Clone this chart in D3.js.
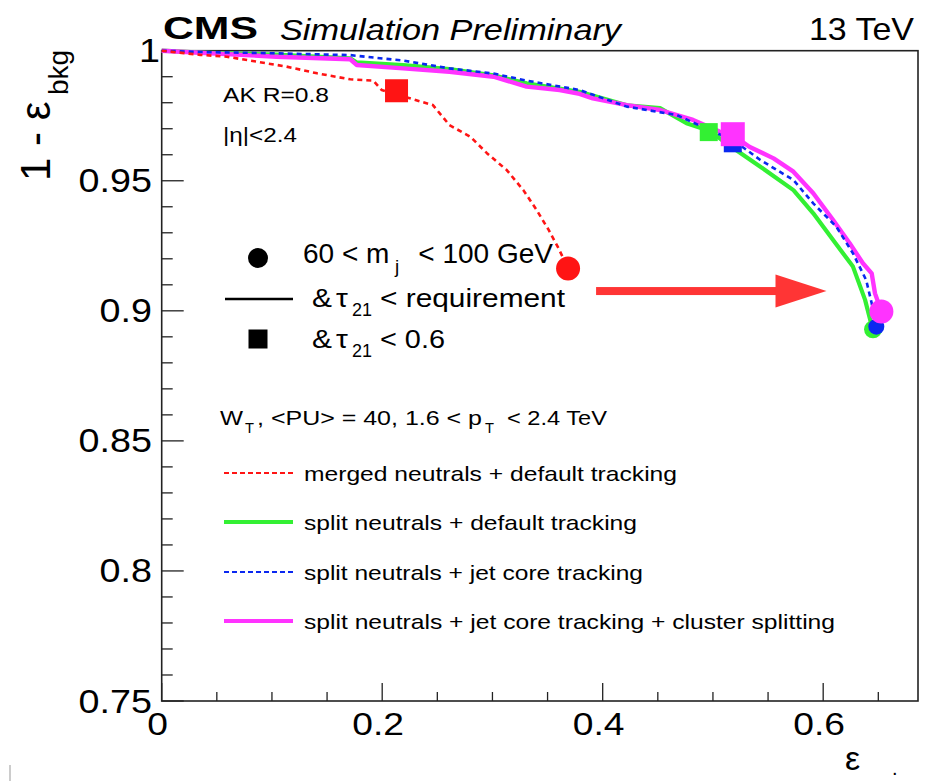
<!DOCTYPE html>
<html><head><meta charset="utf-8">
<script src="https://cdn.jsdelivr.net/npm/d3@7"></script>
<style>
body{margin:0;background:#fff;}
svg{display:block;}
text{font-family:"Liberation Sans",Arial,Helvetica,sans-serif;fill:#000;}
</style>
</head><body>
<svg id="chart" width="933" height="781"></svg>
<script>
// ---------- data ----------
const xTicks = [0, 0.2, 0.4, 0.6];
const xTickLabels = ["0", "0.2", "0.4", "0.6"];
const yTicks = [0.75, 0.8, 0.85, 0.9, 0.95, 1];
const yTickLabels = ["0.75", "0.8", "0.85", "0.9", "0.95", "1"];

const seriesNames = [
  "merged neutrals + default tracking",
  "split neutrals + default tracking",
  "split neutrals + jet core tracking",
  "split neutrals + jet core tracking + cluster splitting"
];
const seriesColors = ["#ff1414", "#33f033", "#0a28f0", "#ff33ff"];

const mergedDefault = [
  [0,1],[0.035,0.9984],[0.059,0.9977],[0.086,0.9958],[0.113,0.9939],[0.141,0.9913],
  [0.171,0.9890],[0.192,0.9885],[0.1995,0.9849],[0.225,0.9817],[0.246,0.9791],
  [0.261,0.9714],[0.280,0.9669],[0.295,0.9606],[0.313,0.9541],[0.328,0.9464],
  [0.340,0.9388],[0.351,0.9311],[0.360,0.9240],[0.3686,0.9163]
];
const splitDefault = [
  [0,1],[0.035,0.9993],[0.104,0.9985],[0.171,0.9971],[0.177,0.9955],[0.219,0.9945],
  [0.261,0.9929],[0.301,0.9905],[0.331,0.9875],[0.379,0.9842],[0.422,0.9790],
  [0.452,0.9779],[0.476,0.9721],[0.498,0.9690],[0.512,0.9644],[0.543,0.9554],
  [0.573,0.9464],[0.591,0.9375],[0.609,0.9272],[0.627,0.9170],[0.638,0.9042],[0.6445,0.8935]
];
const splitJetCore = [
  [0,1],[0.035,0.9995],[0.104,0.9990],[0.171,0.9983],[0.219,0.9962],[0.261,0.9932],
  [0.301,0.9912],[0.331,0.9885],[0.379,0.9849],[0.422,0.9785],[0.467,0.9753],
  [0.497,0.9695],[0.518,0.9657],[0.543,0.9580],[0.573,0.9503],[0.591,0.9413],
  [0.612,0.9323],[0.627,0.9221],[0.639,0.9118],[0.644,0.9029],[0.648,0.8939]
];
const splitJetCoreCluster = [
  [0,1],[0.035,0.9992],[0.104,0.9977],[0.171,0.9967],[0.177,0.9945],[0.219,0.9932],
  [0.261,0.9919],[0.301,0.9900],[0.331,0.9862],[0.361,0.9849],[0.379,0.9834],
  [0.391,0.9817],[0.422,0.9791],[0.452,0.9772],[0.482,0.9734],[0.506,0.9689],
  [0.518,0.9676],[0.533,0.9631],[0.555,0.9586],[0.573,0.9535],[0.591,0.9452],
  [0.609,0.9349],[0.624,0.9260],[0.636,0.9183],[0.644,0.9144],[0.647,0.9067],[0.6528,0.8997]
];
// working points: tau21 < 0.6 (squares) and mass window only (circles)
const squarePoints = [[0.213,0.9846],[0.4962,0.9687],[0.518,0.9644],[0.518,0.9679]];
const squareSizes = [23, 18, 18, 24];
const circlePoints = [[0.3686,0.9163],[0.6452,0.8929],[0.6482,0.8939],[0.6528,0.8997]];
const circleRadii = [12, 9, 8, 12];
const arrowFrom = [0.394, 0.9076];
const arrowTo = [0.603, 0.9076];

// ---------- layout ----------
const svg = d3.select("#chart");
const X0 = 161.7, X1 = 918, Y0 = 701, Y1 = 50.7;
const x = d3.scaleLinear().domain([0, 0.686]).range([X0, X1]);
const y = d3.scaleLinear().domain([0.75, 1]).range([Y0, Y1]);

function txt(px, py, s, size, opt = {}) {
  const t = svg.append("text").attr("x", px).attr("y", py)
    .attr("font-size", size).text(s);
  if (opt.weight) t.attr("font-weight", opt.weight);
  if (opt.style) t.attr("font-style", opt.style);
  if (opt.anchor) t.attr("text-anchor", opt.anchor);
  if (opt.len) t.attr("textLength", opt.len).attr("lengthAdjust", "spacingAndGlyphs");
  else if (opt.sx) {
    const w = t.node().getComputedTextLength();
    t.attr("textLength", w * opt.sx).attr("lengthAdjust", "spacingAndGlyphs");
  }
  return t;
}

// frame
svg.append("rect").attr("x", X0).attr("y", Y1).attr("width", X1 - X0).attr("height", Y0 - Y1)
  .attr("fill", "none").attr("stroke", "#222").attr("stroke-width", 1.6);

// y ticks
const yMinor = d3.range(0.75, 1.0001, 0.01);
svg.append("g").selectAll("line").data(yMinor).join("line")
  .attr("x1", X0).attr("x2", d => X0 + (Math.abs(d * 20 - Math.round(d * 20)) < 1e-6 ? 22 : 11))
  .attr("y1", d => y(d)).attr("y2", d => y(d)).attr("stroke", "#222").attr("stroke-width", 1.3);
// x ticks
const xMinor = d3.range(0, 0.6501, 0.05);
svg.append("g").selectAll("line").data(xMinor).join("line")
  .attr("x1", d => x(d)).attr("x2", d => x(d)).attr("y1", Y0)
  .attr("y2", d => Y0 - (Math.abs(d * 5 - Math.round(d * 5)) < 1e-6 ? 18 : 9))
  .attr("stroke", "#222").attr("stroke-width", 1.3);

// tick labels
yTicks.forEach((v, i) => {
  const lab = yTickLabels[i];
  txt(152 + (lab === "1" ? 8 : 0), y(v) + 11.5, lab, 32.5, {anchor: "end", sx: 1.16});
});
xTicks.forEach((v, i) => {
  txt(x(v) - 4, 735, xTickLabels[i], 31, {anchor: "middle", sx: 1.2});
});

// axis titles
const yt = svg.append("g").attr("transform", "translate(50,181) rotate(-90)");
yt.append("text").attr("x", 0).attr("y", 0).attr("font-size", 42).text("1 - ε");
yt.append("text").attr("x", 86).attr("y", 18).attr("font-size", 28).text("bkg");
txt(845, 770, "ε", 34);
txt(892, 775, ".", 20);

// header
txt(163, 38.5, "CMS", 32, {weight: "bold", len: 95});
txt(280, 40, "Simulation Preliminary", 30, {style: "italic", len: 341});
txt(914, 39.5, "13 TeV", 32, {anchor: "end", len: 105});

// annotations
txt(223, 101.7, "AK R=0.8", 20, {len: 106});
txt(223, 142, "|η|<2.4", 20, {len: 74});

// ---------- curves ----------
const line = d3.line().x(d => x(d[0])).y(d => y(d[1]));
const curves = [mergedDefault, splitDefault, splitJetCore, splitJetCoreCluster];
const widths = [2.6, 4.2, 2.6, 4.4];
const dashes = ["5,4", null, "5,4", null];
const drawOrder = [1, 3, 2, 0];
const plot = svg.append("g");
drawOrder.forEach(i => {
  plot.append("path").attr("d", line(curves[i])).attr("fill", "none")
    .attr("stroke", seriesColors[i]).attr("stroke-width", widths[i])
    .attr("stroke-dasharray", dashes[i]).attr("stroke-linejoin", "round");
});

// squares
[0, 1, 2, 3].forEach(i => {
  const p = squarePoints[i], s = squareSizes[i];
  plot.append("rect").attr("x", x(p[0]) - s / 2).attr("y", y(p[1]) - s / 2)
    .attr("width", s).attr("height", s).attr("fill", seriesColors[i]);
});
// circles
[0, 1, 2, 3].forEach(i => {
  const p = circlePoints[i];
  plot.append("circle").attr("cx", x(p[0])).attr("cy", y(p[1])).attr("r", circleRadii[i])
    .attr("fill", seriesColors[i]);
});

// arrow
const ax0 = x(arrowFrom[0]), ax1 = x(arrowTo[0]), ay = y(arrowFrom[1]);
svg.append("rect").attr("x", ax0).attr("y", ay - 4).attr("width", ax1 - 50 - ax0).attr("height", 8)
  .attr("fill", "#ff3535");
svg.append("path").attr("d", `M${ax1 - 51},${ay - 16.5}L${ax1},${ay}L${ax1 - 51},${ay + 16.5}Z`)
  .attr("fill", "#ff3535");

// ---------- upper legend (marker meaning) ----------
svg.append("circle").attr("cx", 258).attr("cy", 258).attr("r", 10).attr("fill", "#000");
svg.append("line").attr("x1", 225).attr("x2", 293).attr("y1", 299).attr("y2", 299)
  .attr("stroke", "#000").attr("stroke-width", 2.5);
svg.append("rect").attr("x", 248.5).attr("y", 329.5).attr("width", 19).attr("height", 19).attr("fill", "#000");

txt(303, 263, "60 < m", 28);
txt(395, 273, "j", 19);
txt(553, 263, "< 100 GeV", 28, {anchor: "end"});

txt(312, 307, "&", 26, {sx: 1.15});
txt(336, 307, "τ", 26, {sx: 1.15});
txt(352, 315.5, "21", 18, {len: 20});
txt(380, 307, "< requirement", 26, {len: 185});

txt(312, 348, "&", 26, {sx: 1.15});
txt(336, 348, "τ", 26, {sx: 1.15});
txt(352, 356.5, "21", 18, {len: 20});
txt(380, 348, "< 0.6", 26, {len: 65});

// ---------- lower legend ----------
txt(220, 425, "W", 20, {len: 23});
txt(245, 433, "T", 14, {len: 9});
txt(257, 425, ", <PU> = 40, 1.6 < p", 20, {len: 225});
txt(485, 433, "T", 14, {len: 9});
txt(507, 425, "< 2.4 TeV", 20, {len: 100});

const legRows = [473, 522, 572, 621];
const legLens = [373, 333, 339, 531];
seriesNames.forEach((name, i) => {
  svg.append("line").attr("x1", 224).attr("x2", 293).attr("y1", legRows[i]).attr("y2", legRows[i])
    .attr("stroke", seriesColors[i]).attr("stroke-width", i % 2 ? 4 : 2)
    .attr("stroke-dasharray", i % 2 ? null : "5,3");
  txt(304, legRows[i] + 7.5, name, 21, {len: legLens[i]});
});

// small stray mark at bottom-left of the original image
svg.append("line").attr("x1", 10).attr("x2", 10).attr("y1", 765).attr("y2", 781)
  .attr("stroke", "#999").attr("stroke-width", 1);
</script>
</body></html>
